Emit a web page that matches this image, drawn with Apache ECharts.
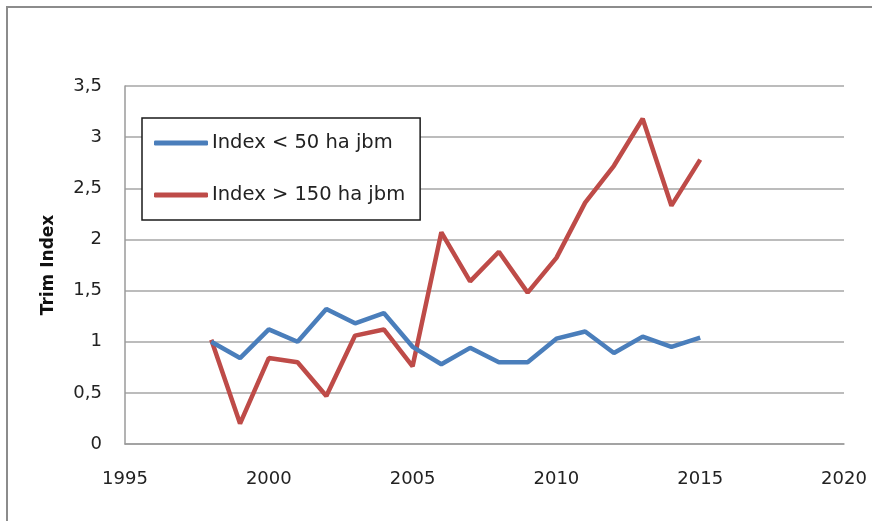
<!DOCTYPE html>
<html>
<head>
<meta charset="utf-8">
<script src="https://cdn.jsdelivr.net/npm/echarts@6/dist/echarts.min.js"></script>
<style>
  html, body { margin: 0; padding: 0; background: #fff; overflow: hidden; }
  #frame { position: absolute; left: 6px; top: 6px; width: 900px; height: 560px; border: 2px solid #8c8c8c; box-sizing: border-box; }
  #chart { position: absolute; left: 0; top: 0; width: 872px; height: 521px; }
</style>
</head>
<body>
<div id="frame"></div>
<div id="chart"></div>
<script>
const years = [1998, 1999, 2000, 2001, 2002, 2003, 2004, 2005, 2006, 2007, 2008, 2009, 2010, 2011, 2012, 2013, 2014, 2015];
const smallFarms = [1.0, 0.84, 1.12, 1.0, 1.32, 1.18, 1.28, 0.95, 0.78, 0.94, 0.80, 0.80, 1.03, 1.10, 0.89, 1.05, 0.95, 1.04];
const largeFarms = [1.02, 0.20, 0.84, 0.80, 0.47, 1.06, 1.12, 0.76, 2.07, 1.59, 1.88, 1.48, 1.82, 2.36, 2.72, 3.18, 2.33, 2.78];
const seriesNames = ['Index < 50 ha jbm', 'Index > 150 ha jbm'];
const yAxisTitle = 'Trim Index';

const font = 'DejaVu Sans';
const chart = echarts.init(document.getElementById('chart'), null, { renderer: 'canvas' });
const pairs = arr => years.map((y, i) => [y, arr[i]]);

chart.setOption({
  animation: false,
  backgroundColor: 'transparent',
  grid: { left: 125, top: 86, right: 28, bottom: 77 },
  legend: {
    orient: 'vertical',
    left: 142,
    top: 118,
    backgroundColor: '#fff',
    borderColor: '#1a1a1a',
    borderWidth: 1.5,
    borderRadius: 0,
    padding: [15, 15, 15, 12],
    itemGap: 32,
    itemWidth: 54,
    itemHeight: 5,
    icon: 'roundRect',
    textStyle: { fontFamily: font, fontSize: 19.5, color: '#222', lineHeight: 20, padding: [0, 0, 0, -1] },
    data: seriesNames
  },
  xAxis: {
    type: 'value',
    min: 1995,
    max: 2020,
    interval: 5,
    axisLine: { show: true, lineStyle: { color: '#9a9a9a', width: 1.5 } },
    axisTick: { show: false },
    splitLine: { show: false },
    axisLabel: { fontFamily: font, fontSize: 18, color: '#222', margin: 26, formatter: v => String(v) }
  },
  yAxis: {
    type: 'value',
    min: 0,
    max: 3.5,
    interval: 0.5,
    name: yAxisTitle,
    nameLocation: 'middle',
    nameGap: 68,
    nameTextStyle: { fontFamily: font, fontSize: 17, fontWeight: 'bold', color: '#111' },
    axisLine: { show: true, lineStyle: { color: '#9a9a9a', width: 1.5 } },
    axisTick: { show: false },
    splitLine: { show: true, lineStyle: { color: '#a6a6a6', width: 1.5 } },
    axisLabel: {
      fontFamily: font, fontSize: 18, color: '#222', margin: 23,
      formatter: v => String(v).replace('.', ',')
    }
  },
  series: [
    {
      name: seriesNames[0],
      type: 'line',
      data: pairs(smallFarms),
      symbol: 'none',
      lineStyle: { color: '#4a7ebb', width: 4.5 },
      itemStyle: { color: '#4a7ebb' },
      z: 3
    },
    {
      name: seriesNames[1],
      type: 'line',
      data: pairs(largeFarms),
      symbol: 'none',
      lineStyle: { color: '#be4b48', width: 4.5 },
      itemStyle: { color: '#be4b48' },
      z: 2
    }
  ]
});
</script>
</body>
</html>
